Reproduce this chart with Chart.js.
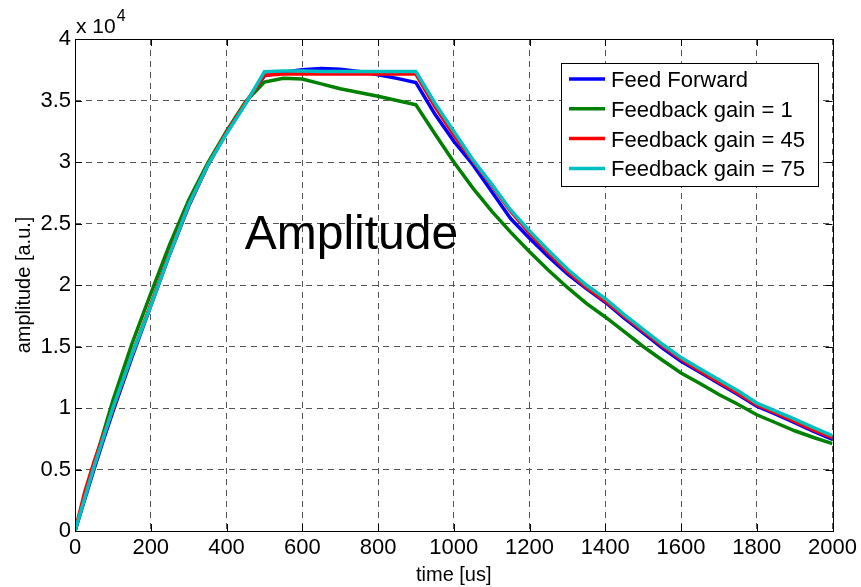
<!DOCTYPE html>
<html><head><meta charset="utf-8">
<script src="https://cdn.jsdelivr.net/npm/chart.js@4/dist/chart.umd.min.js"></script>
<style>html,body{margin:0;padding:0;background:#fff;overflow:hidden}#wrap{width:861px;height:587px}</style>
</head><body><div id="wrap"><canvas id="c" width="861" height="587"></canvas></div>
<script>
// ---- data ----
const times = [0,25,50,75,100,150,200,250,300,350,400,450,500,550,600,650,700,750,800,850,900,
  950,1000,1050,1100,1150,1200,1250,1300,1350,1400,1450,1500,1550,1600,1650,1700,1750,1800,1850,1900,1950,2000];
const feedForward = [0,2500,5000,7400,9700,14100,18300,22500,26400,29700,32400,34800,37000,37300,37500,37600,37550,37350,37100,36800,36450,
  33900,31700,29800,27600,25400,23800,22300,20900,19700,18600,17300,16100,14900,13800,12900,12000,11100,10150,9500,8800,8100,7450];
const gain1 = [0,2700,5400,8000,10600,15200,19300,23300,26900,29900,32500,34900,36500,36800,36750,36350,35950,35650,35350,35000,34650,
  32300,30000,27900,26000,24300,22700,21200,19800,18500,17400,16200,15000,13900,12850,12000,11100,10300,9450,8800,8150,7600,7100];
const gain45 = [0,3100,5600,7800,9900,14300,18400,22600,26500,29700,32400,34800,37050,37150,37150,37150,37150,37150,37150,37150,37150,
  34500,32200,30100,28100,26000,24200,22600,21100,19800,18700,17450,16250,15050,13950,13000,12100,11200,10250,9600,8900,8200,7600];
const gain75 = [0,2600,5200,7600,10000,14300,18300,22500,26500,29700,32300,34700,37350,37400,37400,37350,37350,37350,37350,37350,37350,
  34800,32500,30200,28200,26100,24400,22800,21300,20000,18900,17600,16400,15200,14100,13200,12300,11400,10400,9750,9100,8400,7750];
const seriesNames = ['Feed Forward','Feedback gain = 1','Feedback gain = 45','Feedback gain = 75'];
const seriesColors = ['#0000ff','#008000','#ff0000','#00bfbf'];
const xTickValues = [0,200,400,600,800,1000,1200,1400,1600,1800,2000];
const yTickValues = [0,5000,10000,15000,20000,25000,30000,35000,40000];
const yTickLabels = ['0','0.5','1','1.5','2','2.5','3','3.5','4'];
const xTitle = 'time [us]';
const yTitle = 'amplitude [a.u.]';
const insideLabel = 'Amplitude';
const insideLabelAt = {t: 448, v: 22900};

const FONT = '"Liberation Sans", Arial, Helvetica, sans-serif';
const allSeries = [feedForward, gain1, gain45, gain75];

// later legend entries are drawn on top -> reverse dataset list (index 0 drawn last/top)
const datasets = allSeries.map((vals, i) => ({
  label: seriesNames[i],
  data: times.map((t, j) => ({x: t, y: vals[j]})),
  borderColor: seriesColors[i],
  backgroundColor: seriesColors[i],
  borderWidth: 3.5,
  pointRadius: 0,
  tension: 0,
  fill: false
})).reverse();

const matlabPlugin = {
  id: 'matlab',
  afterDraw(chart) {
    const ctx = chart.ctx;
    const a = chart.chartArea;
    const xs = chart.scales.x, ys = chart.scales.y;
    ctx.save();
    ctx.strokeStyle = '#000';
    ctx.lineWidth = 1;
    ctx.setLineDash([]);
    ctx.strokeRect(Math.round(a.left) + 0.5, Math.round(a.top) + 0.5, Math.round(a.right - a.left), Math.round(a.bottom - a.top));
    const tl = 7;
    ctx.beginPath();
    xTickValues.forEach(v => {
      const px = Math.round(xs.getPixelForValue(v)) + 0.5;
      ctx.moveTo(px, a.bottom); ctx.lineTo(px, a.bottom - tl);
      ctx.moveTo(px, a.top); ctx.lineTo(px, a.top + tl);
    });
    yTickValues.forEach(v => {
      const py = Math.round(ys.getPixelForValue(v)) + 0.5;
      ctx.moveTo(a.left, py); ctx.lineTo(a.left + tl, py);
      ctx.moveTo(a.right, py); ctx.lineTo(a.right - tl, py);
    });
    ctx.stroke();
    ctx.fillStyle = '#000';
    ctx.textAlign = 'left';
    ctx.textBaseline = 'alphabetic';
    ctx.font = '21px ' + FONT;
    ctx.fillText('x 10', a.left + 1, a.top - 6);
    const w = ctx.measureText('x 10').width;
    ctx.font = '16px ' + FONT;
    ctx.fillText('4', a.left + 2 + w, a.top - 18);
    ctx.font = '48px ' + FONT;
    ctx.fillText(insideLabel, xs.getPixelForValue(insideLabelAt.t), ys.getPixelForValue(insideLabelAt.v));
    ctx.font = '20px ' + FONT;
    ctx.textAlign = 'center';
    ctx.fillText(xTitle, (a.left + a.right) / 2, 581);
    ctx.save();
    ctx.translate(30, (a.top + a.bottom) / 2);
    ctx.rotate(-Math.PI / 2);
    ctx.fillText(yTitle, 0, 0);
    ctx.restore();
    const lw = 257, lh = 123;
    const lx = Math.round(a.right - 15 - lw), ly = Math.round(a.top + 24);
    ctx.fillStyle = '#fff';
    ctx.fillRect(lx, ly, lw, lh);
    ctx.strokeStyle = '#000';
    ctx.lineWidth = 1;
    ctx.strokeRect(lx + 0.5, ly + 0.5, lw, lh);
    ctx.font = '22px ' + FONT;
    ctx.textAlign = 'left';
    seriesNames.forEach((name, i) => {
      const ry = ly + 16 + i * 29.8;
      ctx.strokeStyle = seriesColors[i];
      ctx.lineWidth = 3.5;
      ctx.beginPath();
      ctx.moveTo(lx + 8, ry); ctx.lineTo(lx + 44, ry);
      ctx.stroke();
      ctx.fillStyle = '#000';
      ctx.fillText(name, lx + 50, ry + 8);
    });
    ctx.restore();
  }
};

new Chart(document.getElementById('c'), {
  type: 'line',
  data: { datasets },
  options: {
    responsive: false,
    animation: false,
    devicePixelRatio: 1,
    layout: { padding: { left: 0, right: 28, top: 39, bottom: 0 } },
    plugins: { legend: { display: false }, tooltip: { enabled: false } },
    scales: {
      x: {
        type: 'linear', min: 0, max: 2000,
        afterBuildTicks: s => { s.ticks = xTickValues.map(v => ({value: v})); },
        afterFit: s => { s.height = 56; },
        ticks: { color: '#000', font: { family: FONT, size: 22 }, padding: 4, maxRotation: 0, autoSkip: false,
          callback: v => String(v) },
        grid: { color: '#555', lineWidth: 1, drawTicks: false },
        border: { display: false, dash: [6, 5] }
      },
      y: {
        type: 'linear', min: 0, max: 40000,
        afterBuildTicks: s => { s.ticks = yTickValues.map(v => ({value: v})); },
        afterFit: s => { s.width = 75; },
        ticks: { color: '#000', font: { family: FONT, size: 22 }, padding: 4, autoSkip: false,
          callback: v => yTickLabels[yTickValues.indexOf(v)] },
        grid: { color: '#555', lineWidth: 1, drawTicks: false },
        border: { display: false, dash: [6, 5] }
      }
    }
  },
  plugins: [matlabPlugin]
});
</script>
</body></html>
